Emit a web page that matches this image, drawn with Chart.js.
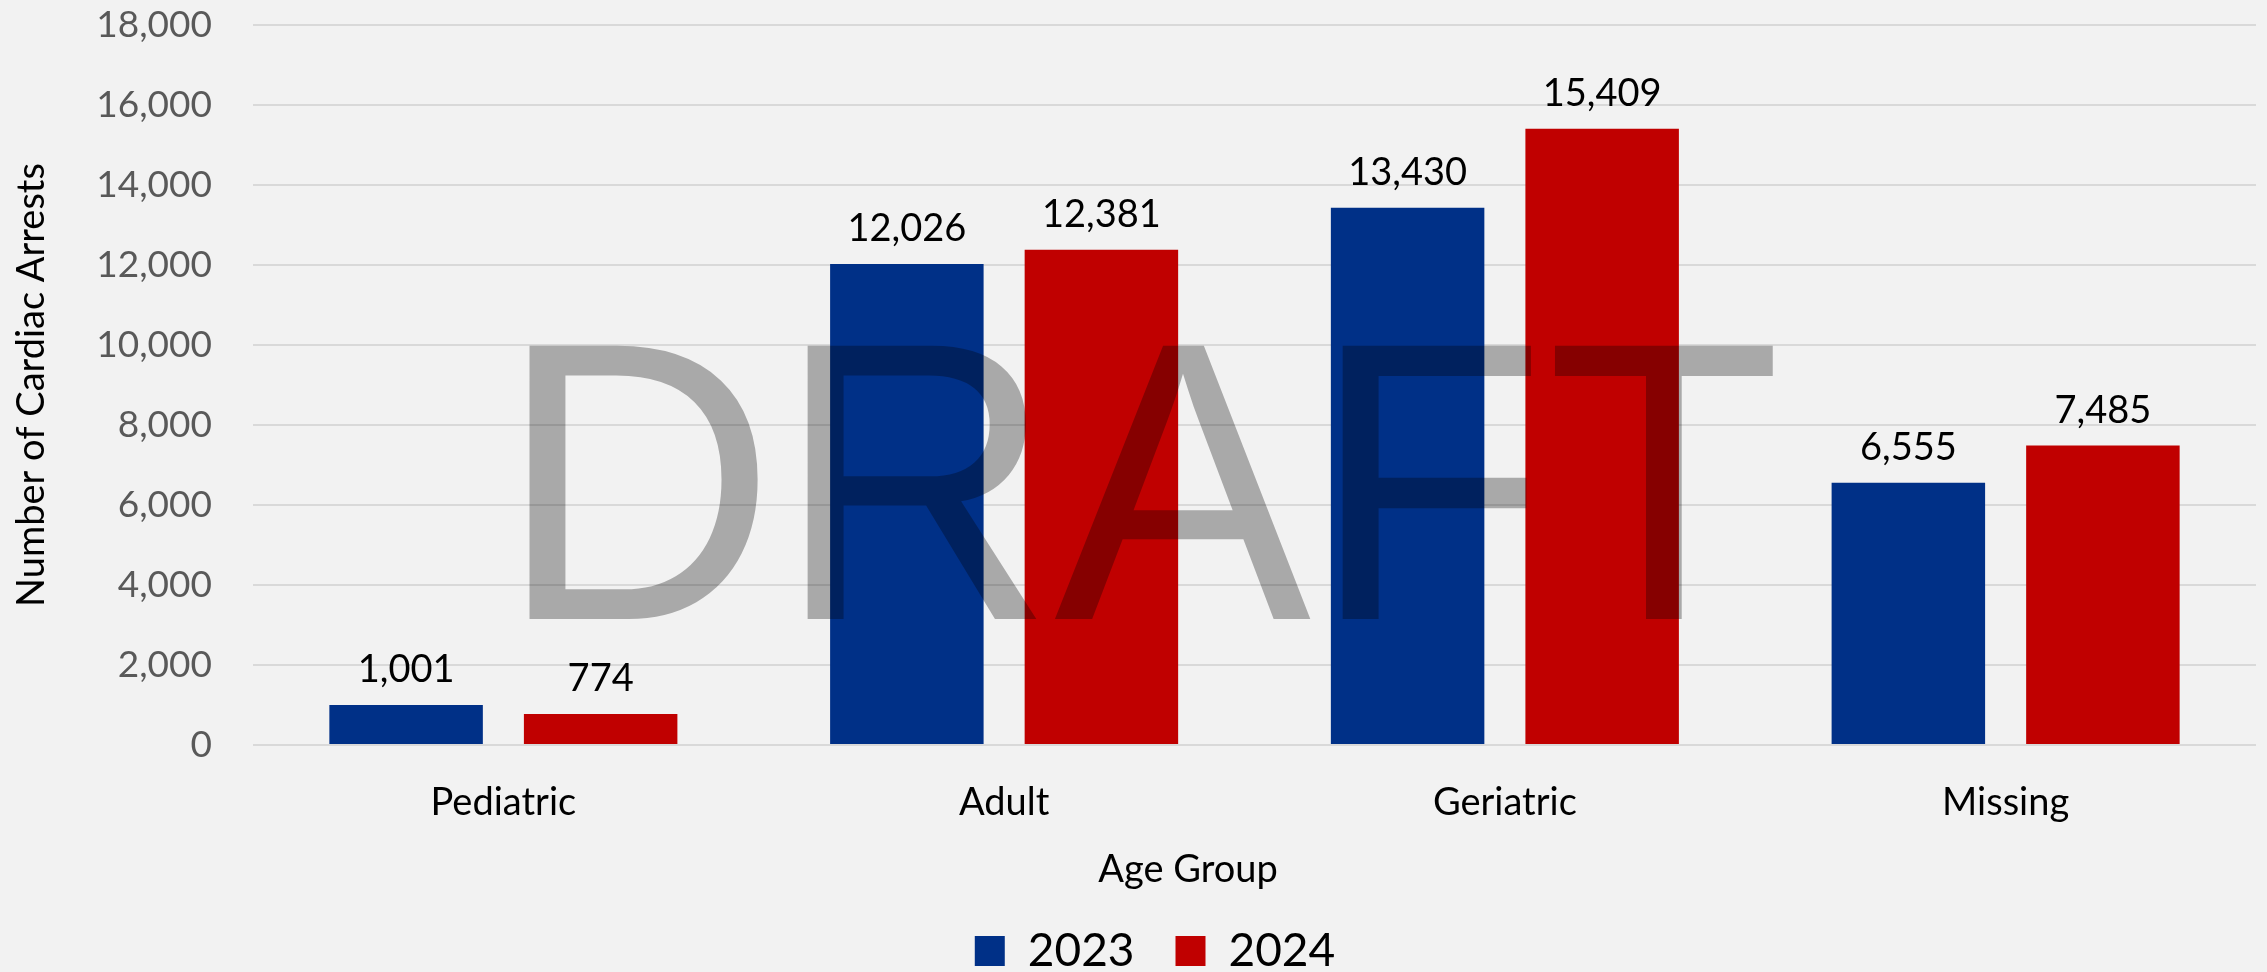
<!DOCTYPE html>
<html>
<head>
<meta charset="utf-8">
<script src="https://cdn.jsdelivr.net/npm/chart.js@4/dist/chart.umd.min.js"></script>
<style>
  html, body { margin: 0; padding: 0; background: #f2f2f2; }
  #wrap { width: 2267px; height: 972px; position: relative; }
</style>
</head>
<body>
<div id="wrap"><canvas id="chart"></canvas></div>
<script>
// Cardiac arrests by age group, 2023 vs 2024
const categories = ['Pediatric', 'Adult', 'Geriatric', 'Missing'];
const values2023 = [1001, 12026, 13430, 6555];
const values2024 = [774, 12381, 15409, 7485];
const yTicks = [0, 2000, 4000, 6000, 8000, 10000, 12000, 14000, 16000, 18000];

const FONT = 'Lato, "Liberation Sans", sans-serif';
const fmt = v => v.toLocaleString('en-US');

// value labels above each bar
const barLabels = {
  id: 'barLabels',
  afterDatasetsDraw(chart) {
    const ctx = chart.ctx;
    ctx.save();
    ctx.font = '38px ' + FONT;
    ctx.fillStyle = '#000';
    ctx.textAlign = 'center';
    ctx.textBaseline = 'alphabetic';
    chart.data.datasets.forEach((ds, i) => {
      chart.getDatasetMeta(i).data.forEach((bar, j) => {
        ctx.fillText(fmt(ds.data[j]), bar.x, bar.y - 23);
      });
    });
    ctx.restore();
  }
};

// x title (Excel puts it a bit left of the plot centre) + DRAFT watermark
const extras = {
  id: 'extras',
  afterDraw(chart) {
    const ctx = chart.ctx;
    ctx.save();
    ctx.font = '38px ' + FONT;
    ctx.fillStyle = '#000';
    ctx.textAlign = 'center';
    ctx.textBaseline = 'alphabetic';
    ctx.fillText('Age Group', 1188, 882);

    ctx.font = '397px "Liberation Sans", Arial, sans-serif';
    ctx.textAlign = 'left';
    const m = ctx.measureText('DRAFT');
    const inkW = m.actualBoundingBoxLeft + m.actualBoundingBoxRight;
    const sx = 1247 / inkW;
    ctx.translate(528, 619);
    ctx.scale(sx, 1);
    ctx.fillStyle = 'rgba(0,0,0,0.3)';
    ctx.fillText('DRAFT', m.actualBoundingBoxLeft, 0);
    ctx.restore();
  }
};

new Chart(document.getElementById('chart'), {
  type: 'bar',
  data: {
    labels: categories,
    datasets: [
      { label: '2023', data: values2023, backgroundColor: '#003087' },
      { label: '2024', data: values2024, backgroundColor: '#c00000' }
    ]
  },
  options: {
    responsive: true,
    maintainAspectRatio: false,
    animation: false,
    categoryPercentage: 0.777,
    barPercentage: 0.789,
    layout: { padding: { top: 25, right: 11, left: 54, bottom: -12 } },
    plugins: {
      legend: {
        position: 'bottom',
        labels: {
          boxWidth: 30, boxHeight: 30, padding: 41,
          color: '#000', font: { family: FONT, size: 46 }
        }
      },
      tooltip: { enabled: false }
    },
    scales: {
      x: {
        grid: { display: false, drawTicks: false },
        border: { display: false },
        ticks: { color: '#000', padding: 35, font: { family: FONT, size: 38 } },
        afterFit: s => { s.height = 142; }
      },
      y: {
        min: 0, max: 18000,
        afterBuildTicks: s => { s.ticks = yTicks.map(v => ({ value: v })); },
        grid: { color: '#d9d9d9', lineWidth: 2, drawTicks: true, tickLength: 41, tickColor: 'rgba(0,0,0,0)' },
        border: { display: false },
        ticks: { color: '#595959', padding: 0, font: { family: FONT, size: 37 }, callback: v => fmt(v) },
        title: {
          display: true, text: 'Number of Cardiac Arrests', color: '#000',
          font: { family: FONT, size: 38 }, padding: { top: -44.8, bottom: 0 }
        },
        afterFit: s => { s.width = 199; }
      }
    }
  },
  plugins: [barLabels, extras]
});
</script>
</body>
</html>
